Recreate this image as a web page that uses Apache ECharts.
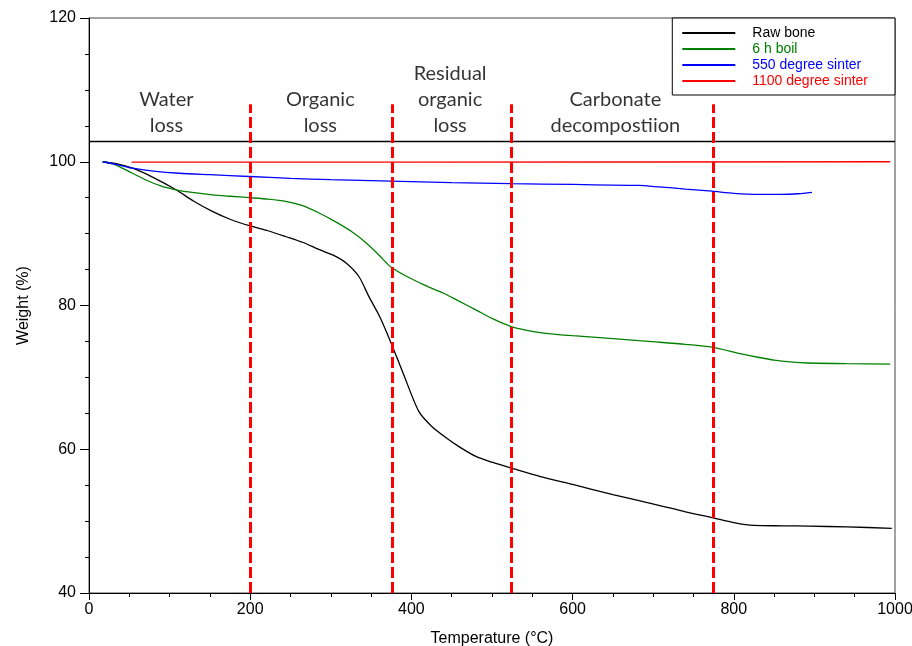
<!DOCTYPE html>
<html>
<head>
<meta charset="utf-8">
<script src="https://cdn.jsdelivr.net/npm/echarts@6/dist/echarts.min.js"></script>
<style>html,body{margin:0;padding:0;background:#fff}#c{width:912px;height:646px}</style>
</head>
<body>
<div id="c"></div>
<script>
// ---- data ----
var rawBoneT = [17, 35, 54, 80, 108, 130, 153, 175, 199, 222, 244, 265, 285, 303, 319, 335, 347, 360, 374, 390, 409, 425, 443, 460, 480, 500, 523, 560, 600, 650, 707, 740, 773, 800, 825, 860, 893, 940, 996];
var rawBoneW = [100, 99.7, 99.1, 97.8, 96.1, 94.5, 93.1, 92.0, 91.1, 90.4, 89.6, 88.8, 87.8, 87.0, 85.9, 84.0, 81.3, 78.6, 75.0, 70.5, 65.3, 63.2, 61.6, 60.3, 59.0, 58.2, 57.4, 56.2, 55.1, 53.7, 52.2, 51.3, 50.5, 49.8, 49.4, 49.35, 49.3, 49.2, 49.0];

var boilT = [17, 30, 45, 70, 90, 108, 130, 153, 175, 199, 222, 244, 265, 285, 305, 327, 345, 360, 374, 395, 417, 440, 459, 480, 500, 523, 545, 562, 600, 650, 682, 707, 740, 773, 808, 830, 850, 870, 893, 940, 994];
var boilW = [100, 99.7, 98.9, 97.5, 96.6, 96.1, 95.7, 95.4, 95.2, 95.0, 94.8, 94.5, 93.9, 92.9, 91.7, 90.2, 88.6, 87.0, 85.4, 84.0, 82.8, 81.7, 80.6, 79.4, 78.2, 77.1, 76.5, 76.2, 75.8, 75.4, 75.1, 74.9, 74.6, 74.2, 73.3, 72.8, 72.4, 72.15, 72.0, 71.9, 71.85];

var sinter550T = [17, 35, 54, 80, 112, 150, 199, 250, 300, 374, 450, 523, 600, 682, 707, 740, 773, 800, 830, 858, 880, 897];
var sinter550W = [100, 99.6, 99.1, 98.7, 98.4, 98.2, 97.95, 97.7, 97.5, 97.3, 97.1, 96.95, 96.85, 96.7, 96.5, 96.2, 95.9, 95.6, 95.45, 95.45, 95.55, 95.75];

var sinter1100T = [53, 400, 994];
var sinter1100W = [99.95, 99.95, 100];

var seriesNames = ['Raw bone', '6 h boil', '550 degree sinter', '1100 degree sinter'];
var seriesColors = ['#000000', '#008000', '#0000ff', '#ff0000'];

var stageBounds = [200, 376, 524, 774];
var stageLineTop = 108;
var dividerWeight = 102.8;

var stageLabels = ['Water\nloss', 'Organic\nloss', 'Residual\norganic\nloss', 'Carbonate\ndecompostiion'];
var stageLabelT = [96, 287, 448, 653];
var stageLabelW = [106.8, 106.8, 108.6, 106.8];

var xMin = 0, xMax = 1000, xStep = 200;
var yMin = 40, yMax = 120, yStep = 20;

function pairs(t, w) { return t.map(function (v, i) { return [v, w[i]]; }); }

var chart = echarts.init(document.getElementById('c'), null, {renderer: 'canvas'});

var dataSets = [pairs(rawBoneT, rawBoneW), pairs(boilT, boilW), pairs(sinter550T, sinter550W), pairs(sinter1100T, sinter1100W)];

var series = dataSets.map(function (d, i) {
  return {
    name: seriesNames[i], type: 'line', data: d, symbol: 'none', smooth: 0.25,
    lineStyle: {color: seriesColors[i], width: 1.3}, itemStyle: {color: seriesColors[i]}, z: 3
  };
});

// divider line + stage boundaries
series.push({
  name: 'guides', type: 'line', data: [], symbol: 'none', silent: true, z: 5,
  markLine: {
    silent: true, symbol: ['none', 'none'], animation: false,
    label: {show: false},
    data: [[{coord: [xMin, dividerWeight], lineStyle: {color: '#000', width: 1.3, type: 'solid'}}, {coord: [xMax, dividerWeight]}]]
      .concat(stageBounds.map(function (b) {
        return [{coord: [b, yMin], lineStyle: {color: '#ff0000', width: 3, type: [11, 4]}}, {coord: [b, stageLineTop]}];
      }))
  }
});

// stage labels
series.push({
  name: 'stages', type: 'scatter', silent: true, symbolSize: 2, z: 6,
  itemStyle: {color: 'rgba(0,0,0,0)'},
  label: {
    show: true, position: 'inside', formatter: function (p) { return stageLabels[p.dataIndex]; },
    fontFamily: 'Lato', fontSize: 20, lineHeight: 26, color: '#000', align: 'center', verticalAlign: 'middle'
  },
  data: pairs(stageLabelT, stageLabelW)
});

chart.setOption({
  animation: false,
  backgroundColor: '#fff',
  grid: {left: 89, right: 17, top: 18, bottom: 53, containLabel: false, outerBoundsMode: 'none', show: true, borderColor: '#444', borderWidth: 1, backgroundColor: 'transparent'},
  legend: {
    orient: 'vertical', right: 17, top: 18, borderColor: '#000', borderWidth: 1, backgroundColor: '#fff',
    padding: [8, 27, 7, 9], itemWidth: 53, itemHeight: 14, itemGap: 2,
    itemStyle: {opacity: 0},
    textStyle: {fontFamily: 'Liberation Sans', fontSize: 14, padding: [0, 0, 0, 12]},
    data: seriesNames.map(function (n, i) { return {name: n, textStyle: {color: seriesColors[i]}}; })
  },
  xAxis: {
    type: 'value', min: xMin, max: xMax, interval: xStep,
    name: 'Temperature (°C)', nameLocation: 'middle', nameGap: 38,
    nameTextStyle: {fontFamily: 'Liberation Sans', fontSize: 16, color: '#000'},
    axisLine: {lineStyle: {color: '#000', width: 1}},
    axisTick: {show: true, length: 7, lineStyle: {color: '#000'}},
    minorTick: {show: true, splitNumber: 4, length: 4, lineStyle: {color: '#000'}},
    axisLabel: {fontFamily: 'Liberation Sans', fontSize: 16, color: '#000', margin: 9, formatter: function (v) { return String(v); }},
    splitLine: {show: false}
  },
  yAxis: {
    type: 'value', min: yMin, max: yMax, interval: yStep,
    name: 'Weight (%)', nameLocation: 'middle', nameGap: 57, nameRotate: 90,
    nameTextStyle: {fontFamily: 'Liberation Sans', fontSize: 16, color: '#000'},
    axisLine: {show: true, lineStyle: {color: '#000', width: 1}},
    axisTick: {show: true, length: 9, lineStyle: {color: '#000'}},
    minorTick: {show: true, splitNumber: 4, length: 4, lineStyle: {color: '#000'}},
    axisLabel: {fontFamily: 'Liberation Sans', fontSize: 16, color: '#000', margin: 13},
    splitLine: {show: false}
  },
  series: series
});
</script>
</body>
</html>
